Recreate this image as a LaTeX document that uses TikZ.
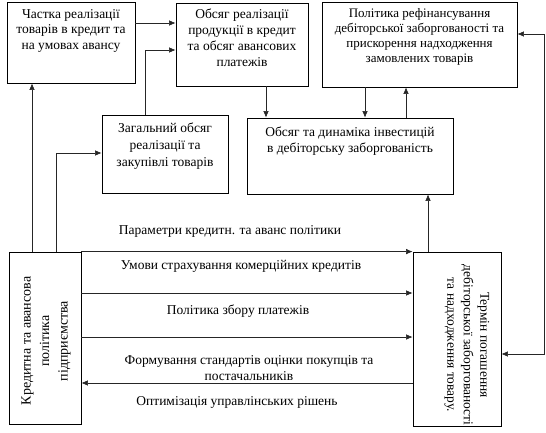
\documentclass[tikz,border=0pt]{standalone}
\usepackage{fontspec}
\setmainfont{Liberation Serif}
\usetikzlibrary{arrows.meta,calc}
\begin{document}
\begin{tikzpicture}[x=1pt,y=-1pt,
  box/.style={draw=black,line width=0.8pt,inner sep=0pt},
  txt/.style={font=\fontsize{13.5}{15.5}\selectfont,align=center,inner sep=0pt},
  lbl/.style={font=\fontsize{13.5}{15.5}\selectfont,align=center,inner sep=0pt},
  conn/.style={line width=0.6pt,draw=black!85},
  arr/.style={conn,-{Latex[length=6.5pt,width=5.5pt]}},
  darr/.style={conn,{Latex[length=6.5pt,width=5.5pt]}-{Latex[length=6.5pt,width=5.5pt]}}]
\useasboundingbox (0,0) rectangle (546,433);
% boxes
\node[box,minimum width=128pt,minimum height=81pt] (A) at (71,42.5) {};
\node[box,minimum width=132pt,minimum height=83pt] (B) at (242,44.5) {};
\node[box,minimum width=195pt,minimum height=85pt] (C) at (419.5,44.5) {};
\node[box,minimum width=126pt,minimum height=78pt] (D) at (165,154) {};
\node[box,minimum width=206pt,minimum height=76pt] (E) at (350,156) {};
\node[box,minimum width=72pt,minimum height=172pt] (F) at (45,338) {};
\node[box,minimum width=88pt,minimum height=174pt] (G) at (457,339) {};
% texts
\node[txt,anchor=north] (tA) at (71,9) {Частка реалізації\\товарів в кредит та\\на умовах авансу};
\node[txt,anchor=north,font=\fontsize{13.5}{15.8}\selectfont] (tB) at (242,9) {Обсяг реалізації\\продукції в кредит\\та обсяг авансових\\платежів};
\node[txt,anchor=north,font=\fontsize{13}{15}\selectfont] (tC) at (419.5,8) {Політика рефінансування\\дебіторської заборгованості та\\прискорення надходження\\замовлених товарів};
\node[txt,anchor=north,font=\fontsize{13.5}{17}\selectfont] (tD) at (165,123) {Загальний обсяг\\реалізації та\\закупівлі товарів};
\node[txt,anchor=north] (tE) at (350,127) {Обсяг та динаміка інвестицій\\в дебіторську заборгованість};
\node[txt,rotate=90,font=\fontsize{14}{18.5}\selectfont] (tF) at (46,341) {Кредитна та авансова\\політика\\підприємства};
\node[txt,rotate=-90,font=\fontsize{13.5}{16.5}\selectfont] (tG) at (467,345) {Термін погашення\\дебіторської заборгованості\\та надходження товару.};
% labels
\node[lbl] (l1) at (230,231) {Параметри кредитн. та аванс політики};
\node[lbl] (l2) at (241,266) {Умови страхування комерційних кредитів};
\node[lbl] (l3) at (238,311) {Політика збору платежів};
\node[lbl] (l4) at (249,368) {Формування стандартів оцінки покупців та\\постачальників};
\node[lbl] (l5) at (237,402) {Оптимізація управлінських рішень};
% top connectors
\draw[arr] (A.east |- 0,23) -- (B.west |- 0,23);
\draw[arr] (D.north -| 145,0) -- (145,50) -- (B.west |- 0,50);
\draw[arr] (B.south -| 266,0) -- (E.north -| 266,0);
\draw[arr] (C.south -| 365,0) -- (E.north -| 365,0);
\draw[arr] (E.north -| 406,0) -- (C.south -| 406,0);
\draw[arr] (G.north -| 428,0) -- (E.south -| 428,0);
\draw[arr] (F.north -| 32,0) -- (A.south -| 32,0);
\draw[arr] (F.north -| 56,0) -- (56,153) -- (D.west |- 0,153);
\draw[darr] (C.east |- 0,34) -- (544,34) -- (544,354) -- (G.east |- 0,354);
% horizontal connectors
\draw[arr] (F.north east) -- (G.north west);
\draw[arr] (F.east |- 0,293) -- (G.west |- 0,293);
\draw[arr] (F.east |- 0,337) -- (G.west |- 0,337);
\draw[arr] (G.west |- 0,383) -- (F.east |- 0,383);
\end{tikzpicture}
\end{document}
